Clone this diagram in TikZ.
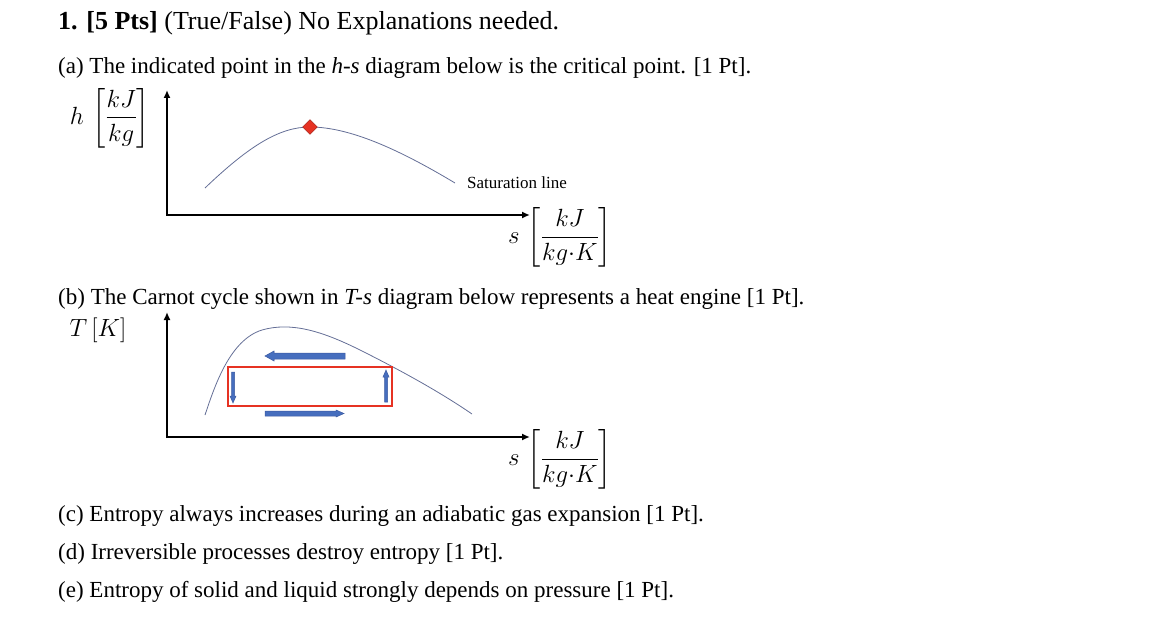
\documentclass[tikz,border=0pt]{standalone}
\usepackage{fontspec}
\usepackage{amsmath}
\usetikzlibrary{arrows.meta,shapes.geometric}
\setmainfont{Liberation Serif}
\begin{document}
\begin{tikzpicture}[x=1pt,y=-1pt,
  body/.style={anchor=base west,inner sep=0pt,font=\fontsize{23}{27}\selectfont},
  mlab/.style={font=\fontsize{25}{30}\selectfont},
  axis/.style={line width=2.6pt,-{Latex[length=8pt,width=7pt]}},
  sat/.style={draw={rgb,255:red,100;green,110;blue,150},line width=0.8pt},
  flow/.style={draw={rgb,255:red,60;green,90;blue,160},fill={rgb,255:red,70;green,110;blue,190},line width=0.5pt}]
\useasboundingbox (0,0) rectangle (1164,636);
\node[body] (t0) at (58,30) {\fontsize{26}{30}\selectfont\textbf{1. [5 Pts]} (True/False) No Explanations needed.};
\node[body] (ta) at (58,74) {(a) The indicated point in the \textit{h-s} diagram below is the critical point. [1 Pt].};
% h-s diagram
\coordinate (y1) at (167,90);
\coordinate (x1) at (530,215);
\draw[axis] (167,216) -- (y1);
\draw[axis] (166,215) -- (x1);
\draw[sat] (205,188) .. controls (250,145) and (280,127) .. (310,127) .. controls (350,127) and (400,150) .. (455,183);
\node[diamond,draw={rgb,255:red,150;green,30;blue,20},fill={rgb,255:red,230;green,50;blue,35},minimum size=15pt,inner sep=0pt] (cp) at (310,127) {};
\node[font=\fontsize{17}{20}\selectfont] (satl) at (517,183) {Saturation line};
\node[mlab] (hl) at (110,118) {$h\,\left[\dfrac{kJ}{kg}\right]$};
\node[mlab] (sl1) at (560,237) {$s\,\left[\dfrac{kJ}{kg{\cdot}K}\right]$};
\node[body] (tb) at (58,304) {(b) The Carnot cycle shown in \textit{T-s} diagram below represents a heat engine [1 Pt].};
% T-s diagram
\coordinate (y2) at (167,312);
\coordinate (x2) at (530,437);
\draw[axis] (167,438) -- (y2);
\draw[axis] (166,437) -- (x2);
\draw[sat] (205,415) .. controls (215,385) and (230,340) .. (262,330) .. controls (290,322) and (320,330) .. (360,350) .. controls (400,370) and (440,392) .. (472,414);
\draw[draw={rgb,255:red,230;green,50;blue,35},line width=1.3pt] (228,367) rectangle (392,406);
\draw[flow] (345,353) -- (274,353) -- (274,351) -- (265,356) -- (274,361) -- (274,359) -- (345,359) -- cycle;
\draw[flow] (265,411) -- (336,411) -- (336,410) -- (344,413.5) -- (336,417) -- (336,416) -- (265,416) -- cycle;
\draw[flow] (231.5,372) -- (234.5,372) -- (234.5,396) -- (236,396) -- (233,403) -- (230,396) -- (231.5,396) -- cycle;
\draw[flow] (384.5,402) -- (387.5,402) -- (387.5,377) -- (389,377) -- (386,370) -- (383,377) -- (384.5,377) -- cycle;
\node[mlab] (tl) at (98,330) {$T\,[K]$};
\node[mlab] (sl2) at (560,459) {$s\,\left[\dfrac{kJ}{kg{\cdot}K}\right]$};
\node[body] (tc) at (58,521) {(c) Entropy always increases during an adiabatic gas expansion [1 Pt].};
\node[body] (td) at (58,559) {(d) Irreversible processes destroy entropy [1 Pt].};
\node[body] (te) at (58,597) {(e) Entropy of solid and liquid strongly depends on pressure [1 Pt].};
\end{tikzpicture}
\end{document}
